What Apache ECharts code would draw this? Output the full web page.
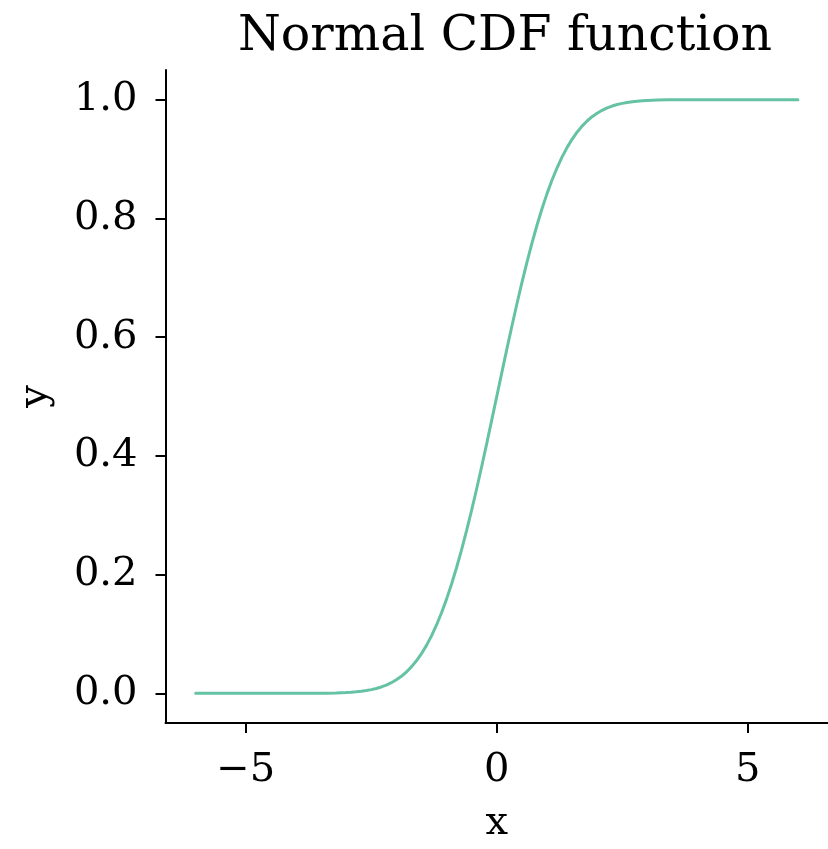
<!DOCTYPE html>
<html>
<head>
<meta charset="utf-8">
<script src="https://cdn.jsdelivr.net/npm/echarts@6/dist/echarts.min.js"></script>
<style>html,body{margin:0;padding:0;background:#fff;}#c{width:828px;height:849px;}</style>
</head>
<body>
<div id="c"></div>
<script>
const titleText = "Normal CDF function";
const xName = "x";
const yName = "y";
const xValues = [-6, -5.5, -5, -4.5, -4, -3.8, -3.6, -3.4, -3.2, -3.0, -2.9, -2.8, -2.7, -2.6, -2.5, -2.4, -2.3, -2.2, -2.1,
  -2.0, -1.9, -1.8, -1.7, -1.6, -1.5, -1.4, -1.3, -1.2, -1.1, -1.0, -0.9, -0.8, -0.7, -0.6, -0.5, -0.4, -0.3, -0.2, -0.1,
  0.0, 0.1, 0.2, 0.3, 0.4, 0.5, 0.6, 0.7, 0.8, 0.9, 1.0, 1.1, 1.2, 1.3, 1.4, 1.5, 1.6, 1.7, 1.8, 1.9,
  2.0, 2.1, 2.2, 2.3, 2.4, 2.5, 2.6, 2.7, 2.8, 2.9, 3.0, 3.2, 3.4, 3.6, 3.8, 4, 4.5, 5, 5.5, 6];
const yValues = [0, 0, 0, 0, 0, 0.0001, 0.0002, 0.0003, 0.0007, 0.0013, 0.0019, 0.0026, 0.0035, 0.0047, 0.0062, 0.0082, 0.0107, 0.0139, 0.0179,
  0.0228, 0.0287, 0.0359, 0.0446, 0.0548, 0.0668, 0.0808, 0.0968, 0.1151, 0.1357, 0.1587, 0.1841, 0.2119, 0.2420, 0.2743, 0.3085, 0.3446, 0.3821, 0.4207, 0.4602,
  0.5000, 0.5398, 0.5793, 0.6179, 0.6554, 0.6915, 0.7257, 0.7580, 0.7881, 0.8159, 0.8413, 0.8643, 0.8849, 0.9032, 0.9192, 0.9332, 0.9452, 0.9554, 0.9641, 0.9713,
  0.9772, 0.9821, 0.9861, 0.9893, 0.9918, 0.9938, 0.9953, 0.9965, 0.9974, 0.9981, 0.9987, 0.9993, 0.9997, 0.9998, 0.9999, 1, 1, 1, 1, 1];
const xTicks = [-5, 0, 5];
const yTicks = [0.0, 0.2, 0.4, 0.6, 0.8, 1.0];

const font = "'DejaVu Serif', serif";
const chart = echarts.init(document.getElementById('c'), null, {renderer: 'canvas'});
chart.setOption({
  backgroundColor: '#ffffff',
  animation: false,
  title: {
    text: titleText, left: 500, top: 8, textAlign: 'center',
    textStyle: {fontFamily: font, fontSize: 49, fontWeight: 'normal', color: '#000'}
  },
  grid: {left: 165.5, top: 70, width: 673.2, height: 663.3, containLabel: false},
  xAxis: {
    type: 'value', min: -6.6, max: 6.6,
    name: xName, nameLocation: 'middle', nameGap: 81,
    nameTextStyle: {fontFamily: font, fontSize: 40, color: '#000'},
    axisLine: {show: true, onZero: false, lineStyle: {color: '#000', width: 2}},
    axisTick: {show: true, length: 10, lineStyle: {color: '#000', width: 2},
      customValues: xTicks},
    axisLabel: {fontFamily: font, fontSize: 40, color: '#000', margin: 28,
      customValues: xTicks,
      formatter: v => (v < 0 ? '\u2212' + Math.abs(v) : String(v))},
    splitLine: {show: false}
  },
  yAxis: {
    type: 'value', min: -0.05, max: 1.05,
    name: yName, nameLocation: 'middle', nameGap: 110, nameRotate: 90,
    nameTextStyle: {fontFamily: font, fontSize: 40, color: '#000'},
    axisLine: {show: true, onZero: false, lineStyle: {color: '#000', width: 2}},
    axisTick: {show: true, length: 10, lineStyle: {color: '#000', width: 2},
      customValues: yTicks},
    axisLabel: {fontFamily: font, fontSize: 40, color: '#000', margin: 28,
      customValues: yTicks,
      formatter: v => v.toFixed(1)},
    splitLine: {show: false}
  },
  series: [{
    type: 'line',
    data: xValues.map((x, i) => [x, yValues[i]]),
    showSymbol: false,
    smooth: false,
    lineStyle: {color: '#66c2a5', width: 3, cap: 'round'},
    itemStyle: {color: '#66c2a5'}
  }]
});
</script>
</body>
</html>
